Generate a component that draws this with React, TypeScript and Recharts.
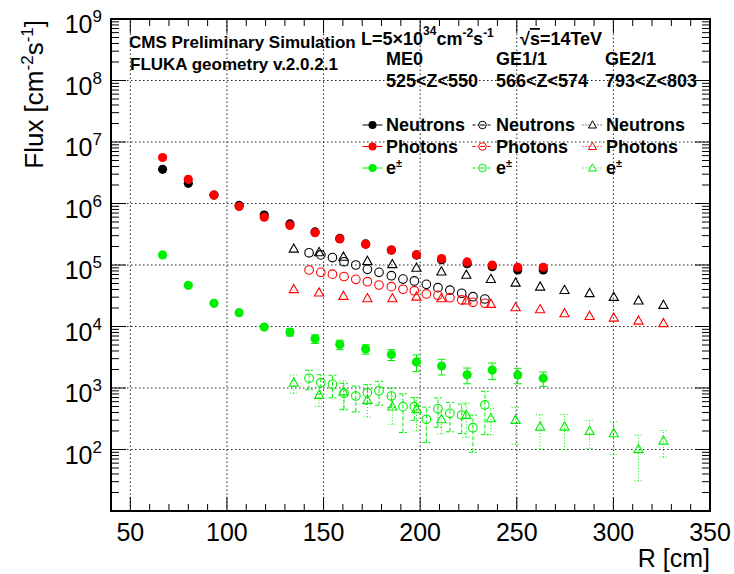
import { ScatterChart, Scatter, XAxis, YAxis, ErrorBar, ReferenceLine } from "recharts";

/* ROOT-style flux plot: ME0 / GE1/1 / GE2/1 vs radius */

const me0R = [66.7, 80, 93.3, 106.3, 119.3, 132.6, 145.6, 158.4, 171.8, 185.1, 198.1, 211.1, 224.3, 237.3, 250.5, 263.7];
const me0Neutrons = [3.6e6, 2.13e6, 1.37e6, 9.3e5, 6.5e5, 4.65e5, 3.45e5, 2.7e5, 2.2e5, 1.75e5, 1.45e5, 1.22e5, 1.05e5, 9.4e4, 8.3e4, 8.3e4];
const me0Photons = [5.6e6, 2.47e6, 1.37e6, 8.9e5, 6.0e5, 4.4e5, 3.35e5, 2.65e5, 2.17e5, 1.75e5, 1.47e5, 1.27e5, 1.12e5, 1.0e5, 9.2e4, 9.2e4];
const me0Electrons = [1.46e5, 4.68e4, 2.38e4, 1.68e4, 9.8e3, 8.1e3, 6.3e3, 5.1e3, 4.3e3, 3.5e3, 2.65e3, 2.28e3, 1.64e3, 1.96e3, 1.63e3, 1.44e3];
const me0ElectronErr = [0, 0, 0, 0, 300, 1100, 1000, 900, 750, 700, 800, 650, 470, 590, 460, 380];

const ge11R = [142.5, 148.6, 154.6, 160.6, 166.7, 172.7, 178.7, 185.1, 191.1, 197.0, 203.2, 209.2, 215.4, 221.5, 227.3, 233.5];
const ge11Neutrons = [1.58e5, 1.46e5, 1.32e5, 1.13e5, 1.0e5, 8.5e4, 7.6e4, 6.7e4, 5.9e4, 5.5e4, 4.85e4, 4.28e4, 3.9e4, 3.47e4, 3.05e4, 2.8e4];
const ge11Photons = [8.3e4, 7.6e4, 7.1e4, 6.5e4, 5.85e4, 5.35e4, 4.73e4, 4.44e4, 4.03e4, 3.82e4, 3.38e4, 3.21e4, 2.94e4, 2.7e4, 2.47e4, 2.38e4];
const ge11Electrons = [1440, 1220, 1150, 820, 741, 840, 903, 741, 497, 497, 310, 460, 388, 364, 226, 530];
const ge11ElectronErr = [504, 427, 460, 369, 333, 294, 379, 259, 308, 199, 180, 230, 194, 182, 136, 355];

const ge21R = [134.6, 147.7, 160.3, 172.7, 185.6, 198.1, 211.0, 223.9, 236.6, 249.4, 262.1, 274.7, 287.7, 300.2, 313.0, 325.9];
const ge21Neutrons = [1.84e5, 1.61e5, 1.36e5, 1.16e5, 1.03e5, 9.0e4, 7.8e4, 6.9e4, 5.9e4, 5.15e4, 4.44e4, 3.9e4, 3.47e4, 3.02e4, 2.63e4, 2.24e4];
const ge21Photons = [4.03e4, 3.55e4, 3.13e4, 2.87e4, 2.87e4, 3.05e4, 2.87e4, 2.63e4, 2.32e4, 2.05e4, 1.9e4, 1.64e4, 1.48e4, 1.39e4, 1.24e4, 1.13e4];
const ge21Electrons = [1220, 769, 871, 638, 497, 451, 310, 364, 321, 302, 235, 235, 200, 183, 101, 139];
const ge21ElectronErr = [400, 270, 435, 300, 240, 250, 130, 207, 148, 181, 134, 136, 96, 100, 70, 64];

const xMajor = [50, 100, 150, 200, 250, 300, 350];
const xMinor = [60, 70, 80, 90, 110, 120, 130, 140, 160, 170, 180, 190, 210, 220, 230, 240, 260, 270, 280, 290, 310, 320, 330, 340];
const yMajor = [10, 100, 1e3, 1e4, 1e5, 1e6, 1e7, 1e8, 1e9];
const yMinor = yMajor.slice(0, -1).flatMap((m) => [2, 3, 4, 5, 6, 7, 8, 9].map((k) => m * k));

const BLACK = "#000000";
const RED = "#ff0000";
const GREEN = "#00ee00";
const FONT = "'Liberation Sans', Arial, Helvetica, sans-serif";

// frame
const PL = 111;
const PR = 710;
const PT = 19;
const PB = 511;

const pts = (xs: number[], ys: number[], errs?: number[]) =>
  xs.map((x, i) => ({ x, y: ys[i], err: errs ? errs[i] : 0 }));

const filled = (color: string) => (p: any) => <circle cx={p.cx} cy={p.cy} r={4.6} fill={color} />;
const open = (color: string) => (p: any) => (
  <circle cx={p.cx} cy={p.cy} r={4.3} fill="none" stroke={color} strokeWidth={1.1} />
);
const tri = (color: string) => (p: any) => (
  <path
    d={`M${p.cx},${p.cy - 4.8} L${p.cx + 4.6},${p.cy + 3.4} L${p.cx - 4.6},${p.cy + 3.4} Z`}
    fill="none"
    stroke={color}
    strokeWidth={1.1}
  />
);

const XTick = (props: any) => {
  const { x, payload } = props;
  const major = xMajor.includes(payload.value);
  const len = major ? 14 : 7;
  return (
    <g>
      <line x1={x} x2={x} y1={PB} y2={PB - len} stroke={BLACK} strokeWidth={1} />
      <line x1={x} x2={x} y1={PT} y2={PT + len} stroke={BLACK} strokeWidth={1} />
      {major && (
        <text x={x} y={541} textAnchor="middle" fontSize={25} fontFamily={FONT} fill={BLACK}>
          {payload.value}
        </text>
      )}
    </g>
  );
};

const YTick = (props: any) => {
  const { y, payload } = props;
  const major = yMajor.includes(payload.value);
  const len = major ? 15 : 8;
  // ROOT drops the label at the bottom edge
  const labelled = major && payload.value > 10;
  return (
    <g>
      <line x1={PL} x2={PL + len} y1={y} y2={y} stroke={BLACK} strokeWidth={1} />
      <line x1={PR} x2={PR - len} y1={y} y2={y} stroke={BLACK} strokeWidth={1} />
      {labelled && (
        <text x={102} y={y + 14} textAnchor="end" fontSize={25} fontFamily={FONT} fill={BLACK}>
          10
          <tspan dy={-11} fontSize={17}>
            {Math.round(Math.log10(payload.value))}
          </tspan>
        </text>
      )}
    </g>
  );
};

const legendCols = [
  { x: 372.5, text: 386, shape: "filled", dash: undefined as string | undefined },
  { x: 482.5, text: 496, shape: "open", dash: "3 2" },
  { x: 592.5, text: 606, shape: "tri", dash: "1 2" },
];
const legendRows = [
  { y: 125, base: 131, color: BLACK, label: "Neutrons" },
  { y: 146.5, base: 152.5, color: RED, label: "Photons" },
  { y: 168, base: 173.5, color: GREEN, label: "e" },
];

function LegendMarks() {
  return (
    <g>
      {legendCols.map((c, ci) =>
        legendRows.map((r, ri) => (
          <g key={`${ci}-${ri}`}>
            <line x1={c.x - 10} x2={c.x + 10} y1={r.y} y2={r.y} stroke={r.color} strokeWidth={1} strokeDasharray={c.dash} />
            {c.shape === "filled" && <circle cx={c.x} cy={r.y} r={4} fill={r.color} />}
            {c.shape === "open" && <circle cx={c.x} cy={r.y} r={3.8} fill="#fff" stroke={r.color} strokeWidth={1} />}
            {c.shape === "open" && (
              <line x1={c.x - 2.5} x2={c.x + 2.5} y1={r.y} y2={r.y} stroke={r.color} strokeWidth={1} />
            )}
            {c.shape === "tri" && (
              <path
                d={`M${c.x},${r.y - 4.2} L${c.x + 4},${r.y + 3} L${c.x - 4},${r.y + 3} Z`}
                fill="#fff"
                stroke={r.color}
                strokeWidth={1}
              />
            )}
            <text x={c.text} y={r.base} fontSize={18} fontWeight="bold" fontFamily={FONT} fill={BLACK}>
              {r.label}
              {ri === 2 && (
                <tspan dy={-7} fontSize={11}>
                  ±
                </tspan>
              )}
            </text>
          </g>
        ))
      )}
    </g>
  );
}

export default function App() {
  const grid = { stroke: "#222", strokeWidth: 1, strokeDasharray: "1.5 2.5" };
  const bold = { fontFamily: FONT, fontWeight: "bold" as const, fill: BLACK };
  return (
    <div style={{ position: "absolute", left: 0, top: 0, width: 734, height: 574, background: "#fff" }}>
      <ScatterChart width={734} height={574} margin={{ top: PT, right: 734 - PR, left: 0, bottom: 0 }}>
        {xMajor.slice(0, -1).map((v) => (
          <ReferenceLine key={`gx${v}`} x={v} {...grid} />
        ))}
        {yMajor.slice(1, -1).map((v) => (
          <ReferenceLine key={`gy${v}`} y={v} {...grid} />
        ))}

        {/* text boxes hide the grid */}
        <rect x={133} y={20} width={225} height={58} fill="#fff" />
        <rect x={358} y={20} width={350} height={76} fill="#fff" />
        <rect x={370} y={104} width={336} height={77} fill="#fff" />

        <Scatter data={pts(me0R, me0Neutrons)} shape={filled(BLACK)} isAnimationActive={false} />
        <Scatter data={pts(me0R, me0Photons)} shape={filled(RED)} isAnimationActive={false} />
        <Scatter data={pts(me0R, me0Electrons, me0ElectronErr)} shape={filled(GREEN)} isAnimationActive={false}>
          <ErrorBar dataKey="err" direction="y" width={4} stroke={GREEN} strokeWidth={1} />
        </Scatter>

        <Scatter data={pts(ge11R, ge11Neutrons)} shape={open(BLACK)} isAnimationActive={false} />
        <Scatter data={pts(ge11R, ge11Photons)} shape={open(RED)} isAnimationActive={false} />
        <Scatter data={pts(ge11R, ge11Electrons, ge11ElectronErr)} shape={open(GREEN)} isAnimationActive={false}>
          <ErrorBar dataKey="err" direction="y" width={4} stroke={GREEN} strokeWidth={1} strokeDasharray="4 2" />
        </Scatter>

        <Scatter data={pts(ge21R, ge21Neutrons)} shape={tri(BLACK)} isAnimationActive={false} />
        <Scatter data={pts(ge21R, ge21Photons)} shape={tri(RED)} isAnimationActive={false} />
        <Scatter data={pts(ge21R, ge21Electrons, ge21ElectronErr)} shape={tri(GREEN)} isAnimationActive={false}>
          <ErrorBar dataKey="err" direction="y" width={4} stroke={GREEN} strokeWidth={1} strokeDasharray="1 2" />
        </Scatter>

        <XAxis
          type="number"
          dataKey="x"
          domain={[40, 350]}
          ticks={[...xMajor, ...xMinor]}
          interval={0}
          height={574 - PB}
          axisLine={false}
          tickLine={false}
          tick={<XTick />}
          allowDataOverflow
        />
        <YAxis
          type="number"
          dataKey="y"
          scale="log"
          domain={[10, 1e9]}
          ticks={[...yMajor, ...yMinor]}
          interval={0}
          width={PL}
          axisLine={false}
          tickLine={false}
          tick={<YTick />}
          allowDataOverflow
        />

        <rect x={PL} y={PT} width={PR - PL} height={PB - PT} fill="none" stroke={BLACK} strokeWidth={2} />

        <text transform="translate(43,20) rotate(-90)" textAnchor="end" fontSize={26} fontFamily={FONT} fill={BLACK}>
          Flux [cm
          <tspan dy={-10} fontSize={17}>-2</tspan>
          <tspan dy={10}>s</tspan>
          <tspan dy={-10} fontSize={17}>-1</tspan>
          <tspan dy={10}>]</tspan>
        </text>
        <text x={PR} y={567} textAnchor="end" fontSize={25} fontFamily={FONT} fill={BLACK}>
          R [cm]
        </text>

        <text x={129} y={48} fontSize={17} {...bold}>CMS Preliminary Simulation</text>
        <text x={130} y={70} fontSize={17} {...bold}>FLUKA geometry v.2.0.2.1</text>

        <text x={361} y={45} fontSize={18} {...bold}>
          L=5×10
          <tspan dy={-10} fontSize={12}>34</tspan>
          <tspan dy={10}>cm</tspan>
          <tspan dy={-8} fontSize={12}>-2</tspan>
          <tspan dy={8}>s</tspan>
          <tspan dy={-8} fontSize={12}>-1</tspan>
        </text>
        <text x={520} y={45} fontSize={18} {...bold}>
          √<tspan textDecoration="overline">s</tspan>=14TeV
        </text>

        <text x={386} y={65} fontSize={18} {...bold}>ME0</text>
        <text x={496} y={65} fontSize={18} {...bold}>GE1/1</text>
        <text x={605} y={65} fontSize={18} {...bold}>GE2/1</text>
        <text x={386} y={87} fontSize={18} {...bold}>525&lt;Z&lt;550</text>
        <text x={496} y={87} fontSize={18} {...bold}>566&lt;Z&lt;574</text>
        <text x={605} y={87} fontSize={18} {...bold}>793&lt;Z&lt;803</text>

        <LegendMarks />
      </ScatterChart>
    </div>
  );
}
